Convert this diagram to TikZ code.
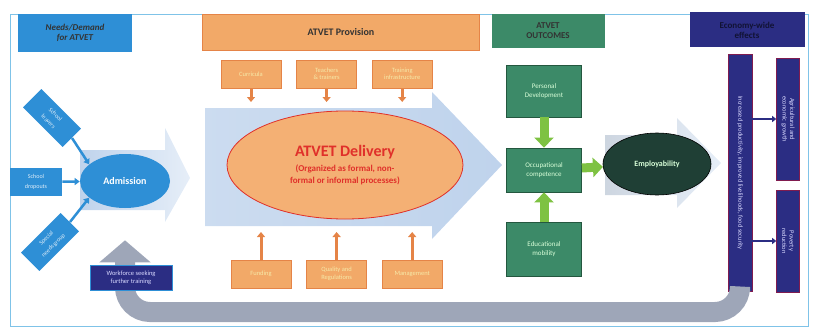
\documentclass[tikz,border=0pt]{standalone}
\usepackage{fontspec}
\setmainfont{Carlito}
\usepackage{tikz}
\usetikzlibrary{arrows.meta,shapes.geometric,positioning}

\definecolor{needblue}{HTML}{2E8FD6}
\definecolor{provorange}{HTML}{F2A968}
\definecolor{provedge}{HTML}{E58447}
\definecolor{delivfill}{HTML}{F4B074}
\definecolor{outgreen}{HTML}{3C8A68}
\definecolor{outedge}{HTML}{24573F}
\definecolor{econnavy}{HTML}{2B2D83}
\definecolor{arrowgreen}{HTML}{7EC242}
\definecolor{flowblue}{HTML}{BFD3EC}
\definecolor{flowpale}{HTML}{E6EEF8}
\definecolor{bandgray}{HTML}{9EA6B8}
\definecolor{delivred}{HTML}{E0302A}
\definecolor{employdark}{HTML}{1F3F35}
\definecolor{framecyan}{HTML}{7FC3E8}
\definecolor{boxtext}{HTML}{F6E9A8}

\begin{document}
\begin{tikzpicture}[x=1pt,y=-1pt,semithick,
	header/.style={rectangle,inner sep=1pt,align=center,font=\bfseries\fontsize{10}{11}\selectfont,text=black!80},
	needbox/.style={rectangle,fill=needblue,minimum width=56pt,minimum height=26pt,inner sep=1pt,align=center,text=white!85!needblue,font=\fontsize{6}{10}\selectfont},
	provbox/.style={rectangle,fill=provorange,draw=provedge,minimum width=60pt,minimum height=28pt,inner sep=1pt,align=center,text=boxtext,font=\fontsize{6.5}{7.5}\selectfont},
	outbox/.style={rectangle,fill=outgreen,draw=outedge,thick,minimum width=75pt,inner sep=1pt,align=center,text=green!15!white,font=\fontsize{7}{8.5}\selectfont},
	econbar/.style={rectangle,rotate=-90,fill=econnavy,draw=econnavy!60!red,inner sep=1pt,align=center,text=blue!15!white,font=\fontsize{6.5}{7.5}\selectfont},
	feed/.style={provedge,line width=3pt,-{Triangle[width=8pt,length=5pt]}},
	push/.style={arrowgreen,line width=9pt,-{Triangle[width=19pt,length=10pt]}},
	enter/.style={needblue,line width=2.5pt,-{Triangle[width=7pt,length=5pt]}},
	spill/.style={econnavy,line width=2pt,-{Triangle[width=6pt,length=4pt]}},
	recycle/.style={bandgray,line width=20pt,rounded corners=25pt,-{Triangle[width=50pt,length=22pt]}}]
	\useasboundingbox (0,0) rectangle (814,329);
	\draw[framecyan] (10,14) rectangle (808,326);

	% flow arrows behind the ovals
	\shade[left color=flowblue,right color=flowpale] (80,150) -- (165,150) -- (165,128) -- (190,178) -- (165,222) -- (165,210) -- (80,210) -- cycle;
	\shade[left color=flowblue!80,right color=flowblue] (205,108) -- (432,108) -- (432,92) -- (502,165) -- (432,239) -- (432,226) -- (205,226) -- cycle;
	\shade[left color=flowblue!70!gray!60,right color=flowpale] (605,135) -- (677,135) -- (677,118) -- (721,163) -- (677,208) -- (677,195) -- (605,195) -- cycle;

	% column headings
	\node[header,fill=needblue,minimum width=114pt,minimum height=38pt,font=\bfseries\itshape\fontsize{9}{10}\selectfont] (needhead) at (75,33) {Needs/Demand\\for ATVET};
	\node[header,fill=provorange,draw=provedge,minimum width=277pt,minimum height=36pt] (provhead) at (341,32) {ATVET Provision};
	\node[header,fill=outgreen,minimum width=113pt,minimum height=34pt,font=\bfseries\fontsize{9}{10}\selectfont] (outhead) at (548,31) {ATVET\\OUTCOMES};
	\node[header,fill=econnavy,minimum width=115pt,minimum height=35pt,text=black!60!econnavy,font=\bfseries\fontsize{9}{10}\selectfont] (econhead) at (747,30) {Economy-wide\\effects};

	% provision inputs
	\node[provbox] (curr) at (251,74) {Curricula};
	\node[provbox] (teach) [right=15pt of curr] {Teachers\\\& trainers};
	\node[provbox] (infra) [right=15pt of teach] {Training\\infrastructure};
	\node[provbox] (fund) at (261,274) {Funding};
	\node[provbox] (qual) [right=15pt of fund] {Quality and\\Regulations};
	\node[provbox] (mgmt) [right=15pt of qual] {Management};
	\coordinate (ftop) at (0,102);
	\coordinate (fbot) at (0,232);

	\node[ellipse,fill=delivfill,draw=delivred,thick,minimum width=236pt,minimum height=108pt,align=center,text=delivred] (delivery) at (345,165)
		{{\bfseries\fontsize{16}{19}\selectfont ATVET Delivery}\\[3pt]
		 {\bfseries\fontsize{9}{11}\selectfont (Organized as formal, non-}\\{\bfseries\fontsize{9}{11}\selectfont formal or informal processes)}};

	% needs side
	\node[ellipse,fill=needblue,minimum width=90pt,minimum height=54pt,text=white,font=\bfseries\fontsize{10}{12}\selectfont] (admission) at (125,181) {Admission};
	\node[needbox,rotate=-45] (leavers) at (52,118) {School\\leavers};
	\node[needbox,minimum width=52pt,minimum height=28pt] (dropouts) at (36,182) {School\\dropouts};
	\node[needbox,rotate=45] (special) at (50,242) {Special\\needs group};

	% outcomes
	\node[outbox,minimum height=52pt] (personal) at (544,91) {Personal\\Development};
	\node[outbox,minimum height=44pt] (occ) at (544,170) {Occupational\\competence};
	\node[outbox,minimum height=54pt] (edu) at (544,249) {Educational\\mobility};
	\node[ellipse,fill=employdark,draw=black,minimum width=108pt,minimum height=62pt,text=white!85!green,font=\bfseries\fontsize{8}{10}\selectfont] (employ) at (657,164) {Employability};

	% economy-wide effects
	\node[econbar,minimum width=237pt,minimum height=24pt] (impact) at (740,173) {Increased productivity, improved livelihoods, food security};
	\node[econbar,minimum width=122pt,minimum height=23pt] (growth) at (788,119) {Agricultural and\\economic growth};
	\node[econbar,minimum width=102pt,minimum height=23pt] (poverty) at (788,241) {Poverty\\reduction};

	\path
		(curr)	edge	[feed]	(curr |- ftop)
		(teach)	edge	[feed]	(teach |- ftop)
		(infra)	edge	[feed]	(infra |- ftop)
		(fund)	edge	[feed]	(fund |- fbot)
		(qual)	edge	[feed]	(qual |- fbot)
		(mgmt)	edge	[feed]	(mgmt |- fbot)
		(leavers.east)	edge	[enter]	(admission.155)
		(dropouts)	edge	[enter]	(admission)
		(special.east)	edge	[enter]	(admission.205)
		(personal)	edge	[push]	(occ)
		(edu)	edge	[push]	(occ)
		(occ)	edge	[push]	(employ)
		(impact.north |- growth)	edge	[spill]	(growth)
		(impact.north |- poverty)	edge	[spill]	(poverty)
	;

	% feedback loop
	\coordinate (turn) at (125,312);
	\draw[recycle,shorten >=32pt] (impact.east) |- (turn) -- (admission.south);
	\node[rectangle,fill=econnavy,draw=needblue,minimum width=82pt,minimum height=25pt,inner sep=1pt,align=center,text=white!85!blue,font=\fontsize{6.5}{7.5}\selectfont] (workforce) at (131,278) {Workforce seeking\\further training};
\end{tikzpicture}
\end{document}
